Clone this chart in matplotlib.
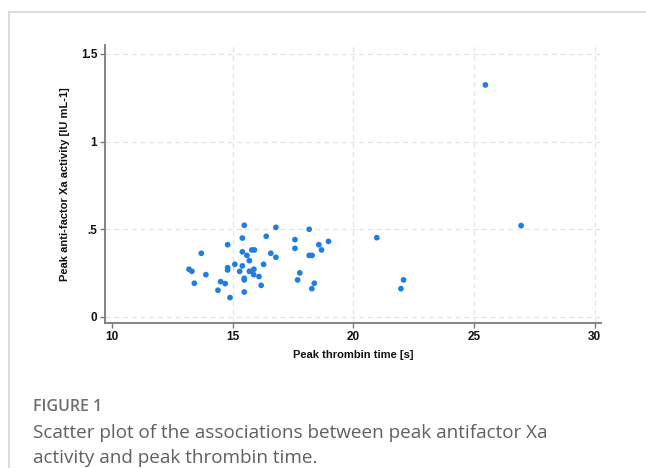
import matplotlib
matplotlib.use("Agg")
import matplotlib.pyplot as plt
from matplotlib.lines import Line2D

# Data
peak_thrombin_time = [15.48, 16.79, 18.17, 16.39, 15.40, 17.58, 18.97, 14.79, 18.57, 17.58,
                      18.68, 15.79, 15.90, 13.70, 15.40, 16.58, 15.59, 16.79, 18.17, 18.29,
                      15.69, 15.09, 16.28, 15.40, 14.79, 14.79, 15.88, 13.19, 13.31, 15.29,
                      15.69, 15.78, 15.87, 13.89, 17.78, 16.09, 15.48, 15.48, 14.50, 14.69,
                      13.41, 17.69, 18.38, 16.18, 18.28, 14.39, 15.48, 14.89,
                      20.97, 22.08, 21.97, 26.95, 25.47]
peak_antiXa = [0.522, 0.510, 0.499, 0.459, 0.449, 0.440, 0.430, 0.411, 0.411, 0.390,
               0.381, 0.381, 0.381, 0.362, 0.370, 0.362, 0.350, 0.339, 0.350, 0.350,
               0.320, 0.299, 0.299, 0.290, 0.280, 0.267, 0.271, 0.271, 0.259, 0.259,
               0.259, 0.259, 0.240, 0.240, 0.250, 0.229, 0.219, 0.210, 0.200, 0.189,
               0.191, 0.210, 0.191, 0.179, 0.160, 0.151, 0.141, 0.109,
               0.451, 0.210, 0.160, 0.520, 1.323]

x_ticks = [10, 15, 20, 25, 30]
x_ticklabels = ["10", "15", "20", "25", "30"]
y_ticks = [0, 0.5, 1, 1.5]
y_ticklabels = ["0", ".5", "1", "1.5"]
x_grid = [15, 20, 25, 30]
y_grid = [0, 0.5, 1, 1.5]

xlabel = "Peak thrombin time [s]"
ylabel = "Peak anti-factor Xa activity [IU mL-1]"
fig_label = "FIGURE 1"
caption_lines = ["Scatter plot of the associations between peak antifactor Xa",
                 "activity and peak thrombin time."]

W, H = 646, 468
fig = plt.figure(figsize=(W / 100, H / 100), dpi=100)
fig.patch.set_facecolor("white")

# card border (top and left)
fig.add_artist(Line2D([9 / W, 1.0], [1 - 12 / H, 1 - 12 / H], transform=fig.transFigure,
                      color="#d6d6d6", lw=1.2))
fig.add_artist(Line2D([9 / W, 9 / W], [0, 1 - 12 / H], transform=fig.transFigure,
                      color="#d6d6d6", lw=1.2))

left, right, bottom, top = 105, 601, 323, 45
ax = fig.add_axes([left / W, 1 - bottom / H, (right - left) / W, (bottom - top) / H])
ax.set_xlim(9.71, 30.26)
ax.set_ylim(-0.036, 1.551)

for gx in x_grid:
    ax.axvline(gx, color="#e4e4e4", lw=0.9, ls=(0, (4, 3)), zorder=0)
for gy in y_grid:
    ax.axhline(gy, color="#e4e4e4", lw=0.9, ls=(0, (4, 3)), zorder=0)

ax.scatter(peak_thrombin_time, peak_antiXa, s=17, color="#1f7de6", edgecolors="none", zorder=3)

for s in ["top", "right"]:
    ax.spines[s].set_visible(False)
for s in ["left", "bottom"]:
    ax.spines[s].set_color("#7a7a7a")
    ax.spines[s].set_linewidth(1.3)

ax.set_xticks(x_ticks)
ax.set_xticklabels(x_ticklabels)
ax.set_yticks(y_ticks)
ax.set_yticklabels(y_ticklabels)
ax.tick_params(direction="out", length=3.5, width=1.0, color="#7a7a7a", pad=2,
               labelsize=8.5, labelcolor="#111111")
for lab in ax.get_xticklabels() + ax.get_yticklabels():
    lab.set_fontweight("bold")
    lab.set_fontfamily("Liberation Sans")

ax.set_xlabel(xlabel, fontsize=8, fontfamily="Liberation Sans", fontweight="bold",
              color="#111111", labelpad=5)
ax.set_ylabel(ylabel, fontsize=8, fontfamily="Liberation Sans", fontweight="bold",
              color="#111111", labelpad=8)

fig.text(33 / W, 1 - 407 / H, fig_label, fontsize=11.5, fontfamily="Open Sans",
         fontweight="semibold", color="#6e6e6e", va="center", ha="left")
for i, line in enumerate(caption_lines):
    fig.text(33 / W, 1 - (433 + 25 * i) / H, line, fontsize=13.6, fontfamily="Open Sans",
             color="#606060", va="center", ha="left")

fig.savefig("out.png", dpi=100, facecolor="white")
